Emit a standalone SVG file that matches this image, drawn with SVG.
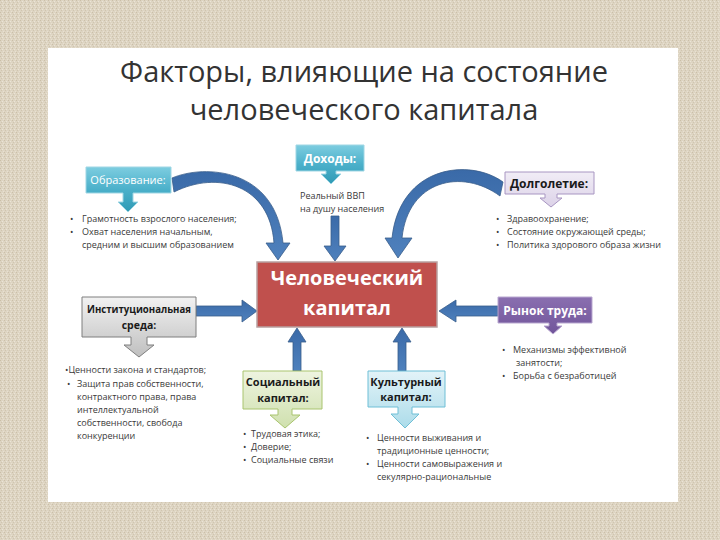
<svg xmlns="http://www.w3.org/2000/svg" width="720" height="540" viewBox="0 0 720 540">
<style>
.t{font-family:"Open Sans","Noto Sans",sans-serif;fill:#333}
.b{font-family:"Open Sans","Noto Sans",sans-serif;font-size:9px;fill:#3a3a3a}
.lw{font-family:"Open Sans","Noto Sans",sans-serif;fill:#fff;text-anchor:middle}
.lb{font-family:"Open Sans","Noto Sans",sans-serif;fill:#1a1a1a;text-anchor:middle;font-weight:bold}
.arr{fill:url(#blue);stroke:#385d8a;stroke-width:0.8}
</style>
<defs>
<pattern id="linen" width="4" height="4" patternUnits="userSpaceOnUse">
<rect width="4" height="4" fill="#ddd4c2"/>
<rect x="0" y="0" width="1" height="1" fill="#cbbfa8"/>
<rect x="2" y="1" width="1" height="1" fill="#ebe4d6"/>
<rect x="1" y="2" width="1" height="1" fill="#d0c5af"/>
<rect x="3" y="3" width="1" height="1" fill="#e8e0d0"/>
</pattern>
<linearGradient id="blue" x1="0" y1="0" x2="0" y2="1">
<stop offset="0" stop-color="#3a6aa8"/><stop offset="1" stop-color="#4f81bd"/>
</linearGradient>
<linearGradient id="teal" x1="0" y1="0" x2="0" y2="1">
<stop offset="0" stop-color="#7dcde0"/><stop offset="0.5" stop-color="#4bb0ca"/><stop offset="1" stop-color="#2f9ab5"/>
</linearGradient>
<linearGradient id="gray" x1="0" y1="0" x2="0" y2="1">
<stop offset="0" stop-color="#f2f2f2"/><stop offset="1" stop-color="#bfbfbf"/>
</linearGradient>
<linearGradient id="green" x1="0" y1="0" x2="0" y2="1">
<stop offset="0" stop-color="#eef4e0"/><stop offset="1" stop-color="#cfe0ae"/>
</linearGradient>
<linearGradient id="lblue" x1="0" y1="0" x2="0" y2="1">
<stop offset="0" stop-color="#e3f3f8"/><stop offset="1" stop-color="#acdcea"/>
</linearGradient>
<linearGradient id="lav" x1="0" y1="0" x2="0" y2="1">
<stop offset="0" stop-color="#f1edf6"/><stop offset="1" stop-color="#dcd2e8"/>
</linearGradient>
<linearGradient id="purple" x1="0" y1="0" x2="0" y2="1">
<stop offset="0" stop-color="#8a6fb0"/><stop offset="1" stop-color="#71559a"/>
</linearGradient>
</defs>

<g id="background">
<rect width="720" height="540" fill="url(#linen)"/>
<rect x="48" y="48" width="630" height="454" fill="#ffffff"/>
</g>

<g id="title" class="t">
<text x="364" y="82" font-size="29" text-anchor="middle">Факторы, влияющие на состояние</text>
<text x="364" y="120" font-size="29" text-anchor="middle">человеческого капитала</text>
</g>

<g id="connectors">
<path class="arr" d="M 172,178 C 205,164 276,168 283,243 L 290,243 L 278,260 L 266,243 L 274,243 C 270,185 218,170 174,192 Z"/>
<path class="arr" d="M 503,182 C 470,158 400,165 392,238 L 385,238 L 398,258 L 412,238 L 402,238 C 408,180 462,168 500,196 Z"/>
<path class="arr" d="M 331,216 H 339 V 246 H 346 L 335,261 L 324,246 H 331 Z"/>
<path class="arr" d="M 196,306 H 242 V 300 L 257,311 L 242,322 V 316 H 196 Z"/>
<path class="arr" d="M 498,306 H 456 V 300 L 439,311 L 456,322 V 316 H 498 Z"/>
<path class="arr" d="M 293,371 V 342 H 288 L 297,328 L 306,342 H 301 V 371 Z"/>
<path class="arr" d="M 398,371 V 342 H 393 L 402,328 L 411,342 H 406 V 371 Z"/>
</g>

<g id="center">
<rect x="257" y="262" width="180" height="65" fill="#c0504d" stroke="#b8a0a0" stroke-width="1.5"/>
<text class="lw" x="347" y="285" font-size="20" font-weight="bold">Человеческий</text>
<text class="lw" x="347" y="315" font-size="20" font-weight="bold">капитал</text>
</g>

<g id="obrazovanie">
<path d="M 86,167 H 171 V 193 H 133 V 202 H 138 L 128,212 L 118,202 H 123 V 193 H 86 Z" fill="url(#teal)" stroke="#9fd6e4" stroke-width="1"/>
<text class="lw" x="128" y="184" font-size="11">Образование:</text>
<text class="b" x="70" y="222">•</text><text class="b" x="82" y="222">Грамотность взрослого населения;</text>
<text class="b" x="70" y="235">•</text><text class="b" x="82" y="235">Охват населения начальным,</text>
<text class="b" x="82" y="248">средним и высшим образованием</text>
</g>

<g id="dohody">
<path d="M 296,145 H 364 V 171 H 336 V 174 H 341 L 331,184 L 321,174 H 326 V 171 H 296 Z" fill="url(#teal)" stroke="#9fd6e4" stroke-width="1"/>
<text class="lw" x="330" y="163" font-size="12" font-weight="bold">Доходы:</text>
<text class="b" x="300" y="199">Реальный ВВП</text>
<text class="b" x="300" y="212">на душу населения</text>
</g>

<g id="dolgoletie">
<path d="M 505,172 H 594 V 194 H 557 V 198 H 562 L 551,207 L 540,198 H 545 V 194 H 505 Z" fill="url(#lav)" stroke="#a896c2" stroke-width="1"/>
<text class="lb" x="549" y="188" font-size="12">Долголетие:</text>
<text class="b" x="496" y="222">•</text><text class="b" x="507" y="222">Здравоохранение;</text>
<text class="b" x="496" y="235">•</text><text class="b" x="507" y="235">Состояние окружающей среды;</text>
<text class="b" x="496" y="248">•</text><text class="b" x="507" y="248">Политика здорового образа жизни</text>
</g>

<g id="institut">
<path d="M 82,297 H 196 V 337 H 147 V 345 H 154 L 139,357 L 124,345 H 131 V 337 H 82 Z" fill="url(#gray)" stroke="#7f7f7f" stroke-width="1"/>
<text class="lb" x="139" y="313" font-size="10.5" textLength="104" lengthAdjust="spacingAndGlyphs">Институциональная</text>
<text class="lb" x="139" y="329" font-size="10.5">среда:</text>
<text class="b" x="65" y="373">•Ценности закона и стандартов;</text>
<text class="b" x="67" y="387">•</text><text class="b" x="77" y="387">Защита прав собственности,</text>
<text class="b" x="77" y="400">контрактного права, права</text>
<text class="b" x="77" y="413">интеллектуальной</text>
<text class="b" x="77" y="426">собственности, свобода</text>
<text class="b" x="77" y="439">конкуренции</text>
</g>

<g id="rynok">
<path d="M 498,297 H 592 V 323 H 557 V 326 H 562 L 553,334 L 544,326 H 549 V 323 H 498 Z" fill="url(#purple)" stroke="#b9a8d0" stroke-width="1"/>
<text class="lw" x="545" y="315" font-size="12" font-weight="bold">Рынок труда:</text>
<text class="b" x="502" y="353">•</text><text class="b" x="513" y="353">Механизмы эффективной</text>
<text class="b" x="516" y="366">занятости;</text>
<text class="b" x="502" y="379">•</text><text class="b" x="513" y="379">Борьба с безработицей</text>
</g>

<g id="social">
<path d="M 243,371 H 322 V 409 H 292 V 415 H 300 L 285,428 L 270,415 H 278 V 409 H 243 Z" fill="url(#green)" stroke="#a9c46e" stroke-width="1"/>
<text class="lb" x="283" y="386" font-size="11">Социальный</text>
<text class="lb" x="283" y="402" font-size="11">капитал:</text>
<text class="b" x="243" y="437">•</text><text class="b" x="251" y="437">Трудовая этика;</text>
<text class="b" x="243" y="450">•</text><text class="b" x="251" y="450">Доверие;</text>
<text class="b" x="243" y="463">•</text><text class="b" x="251" y="463">Социальные связи</text>
</g>

<g id="cultural">
<path d="M 368,371 H 445 V 407 H 412 V 414 H 419 L 405,428 L 391,414 H 398 V 407 H 368 Z" fill="url(#lblue)" stroke="#6fbfd6" stroke-width="1"/>
<text class="lb" x="406" y="386" font-size="11">Культурный</text>
<text class="lb" x="406" y="401" font-size="11">капитал:</text>
<text class="b" x="366" y="441">•</text><text class="b" x="377" y="441">Ценности выживания и</text>
<text class="b" x="377" y="454">традиционные ценности;</text>
<text class="b" x="366" y="467">•</text><text class="b" x="377" y="467">Ценности самовыражения и</text>
<text class="b" x="377" y="480">секулярно-рациональные</text>
</g>
</svg>
